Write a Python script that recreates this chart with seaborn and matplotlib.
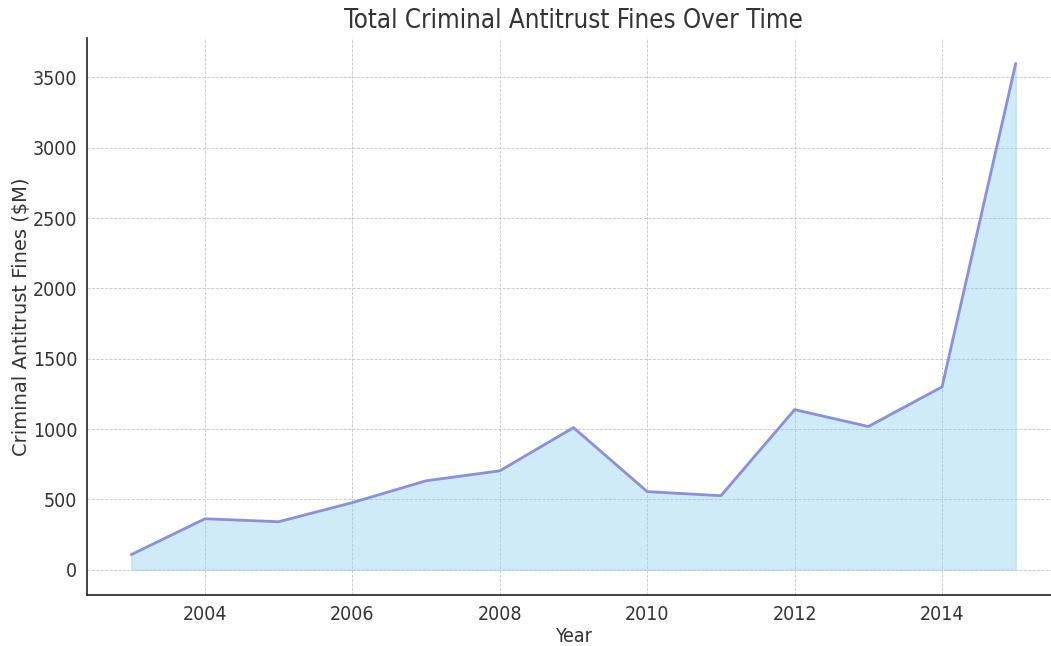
import matplotlib
matplotlib.use("Agg")
import matplotlib.pyplot as plt
import seaborn as sns
import pandas as pd

years = [2003, 2004, 2005, 2006, 2007, 2008, 2009, 2010, 2011, 2012, 2013, 2014, 2015]
fines = [107, 362, 341, 477, 632, 703, 1010, 555, 526, 1138, 1018, 1300, 3600]

df = pd.DataFrame({"Year": years, "Fines": fines})

sns.set_style("white")
plt.rcParams["font.family"] = ["DejaVu Sans"]

fig = plt.figure(figsize=(10.51, 6.46), dpi=100)
ax = fig.add_axes([87 / 1051, 51 / 646, (1060 - 87) / 1051, (595 - 38) / 646])

ax.fill_between(df["Year"], df["Fines"], color="skyblue", alpha=0.4, linewidth=1)
sns.lineplot(data=df, x="Year", y="Fines", ax=ax, color="#8c8ee0", linewidth=2)

ax.grid(True, linestyle="--", color="#c4c4c4", linewidth=0.6)
ax.set_axisbelow(True)
for side in ("top", "right"):
    ax.spines[side].set_visible(False)
for side in ("left", "bottom"):
    ax.spines[side].set_color("#222222")
    ax.spines[side].set_linewidth(1.2)

ax.tick_params(axis="both", which="major", direction="out", length=4, width=1,
               color="#333333", labelcolor="#333333", pad=3)
for lab in ax.get_xticklabels() + ax.get_yticklabels():
    lab.set_fontsize(14)
    lab.set_fontstretch("condensed")

ax.set_title("Total Criminal Antitrust Fines Over Time", fontsize=18.5, color="#333333",
             fontstretch="condensed", pad=7)
ax.set_xlabel("Year", fontsize=14, color="#333333", fontstretch="condensed", labelpad=2)
ax.set_ylabel("Criminal Antitrust Fines ($M)", fontsize=14, color="#333333", labelpad=1)

fig.savefig("out.png", dpi=100)
